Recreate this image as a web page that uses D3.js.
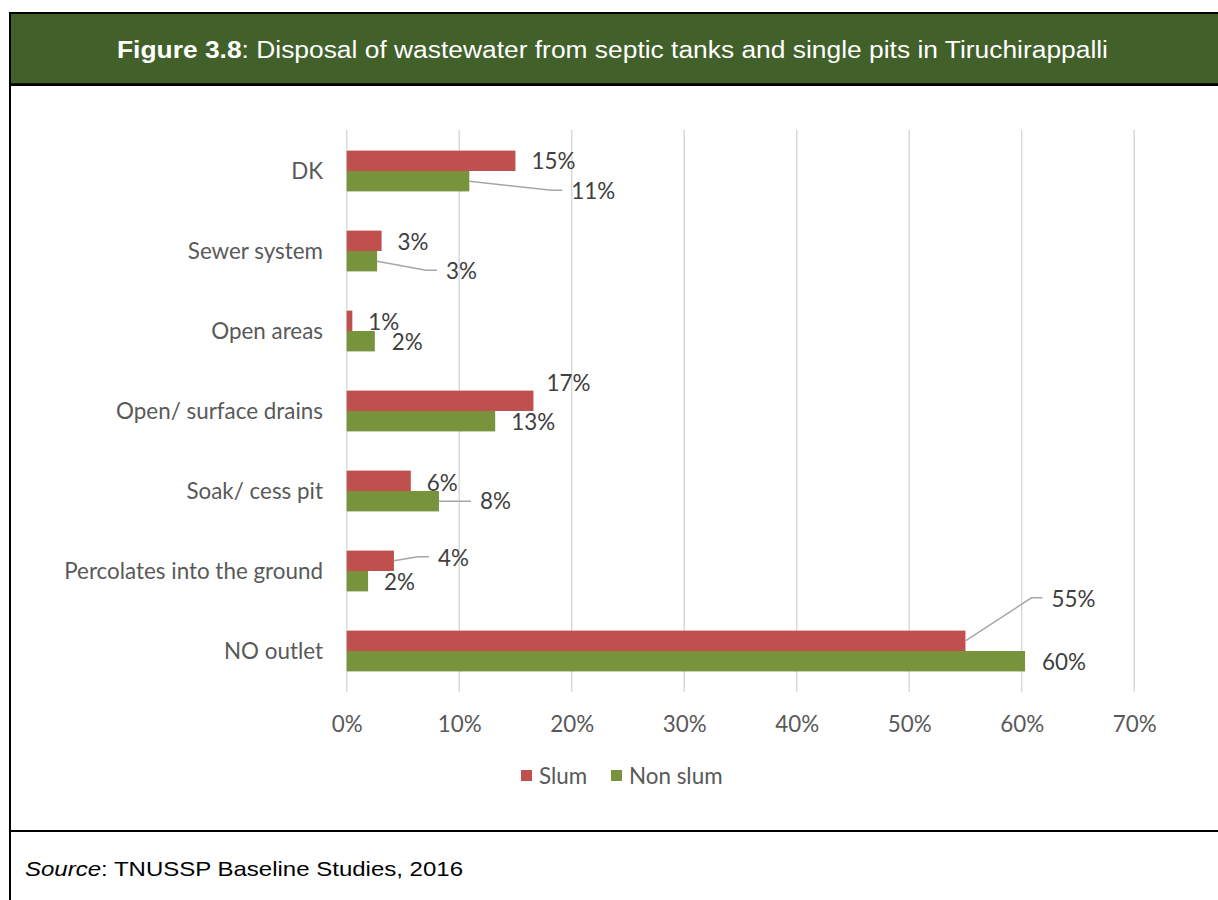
<!DOCTYPE html>
<html>
<head>
<meta charset="utf-8">
<script src="https://cdn.jsdelivr.net/npm/d3@7"></script>
<style>
  html, body { margin: 0; padding: 0; background: #fff; }
  svg { display: block; }
</style>
</head>
<body>
<svg id="chart" width="1218" height="900"></svg>
<script>
// ---- data ----
const categories = ["DK", "Sewer system", "Open areas", "Open/ surface drains", "Soak/ cess pit", "Percolates into the ground", "NO outlet"];
const seriesNames = ["Slum", "Non slum"];
const slum    = [15.0, 3.1, 0.5, 16.6, 5.7, 4.2, 55.0];
const nonSlum = [10.9, 2.7, 2.5, 13.2, 8.2, 1.9, 60.3];
const slumLabels    = ["15%", "3%", "1%", "17%", "6%", "4%", "55%"];
const nonSlumLabels = ["11%", "3%", "2%", "13%", "8%", "2%", "60%"];
const xTicks = [0, 10, 20, 30, 40, 50, 60, 70];
const titleBold = "Figure 3.8";
const titleRest = ": Disposal of wastewater from septic tanks and single pits in Tiruchirappalli";
const sourceItalic = "Source";
const sourceRest = ": TNUSSP Baseline Studies, 2016";

// label placement (offsets from bar end / bar centre), layout only
const slumLabelOffsets    = [[16,0],[16,1],[16,1],[13,-18],[16,2],[44,-3],[86,-42]];
const nonSlumLabelOffsets = [[102,10],[69,10],[17,1],[16,1],[41,0],[16,1],[17,1]];

const colors = ["#C0504D", "#77933C"];
const svg = d3.select("#chart");

// ---- frame ----
svg.append("rect").attr("x", 10).attr("y", 13).attr("width", 1210).attr("height", 72)
  .attr("fill", "#42602a");
svg.append("line").attr("x1", 9).attr("x2", 1218).attr("y1", 13).attr("y2", 13).attr("stroke", "#000").attr("stroke-width", 2.2);
svg.append("line").attr("x1", 9).attr("x2", 1218).attr("y1", 84.7).attr("y2", 84.7).attr("stroke", "#000").attr("stroke-width", 2.8);
svg.append("line").attr("x1", 10).attr("x2", 10).attr("y1", 12).attr("y2", 900).attr("stroke", "#000").attr("stroke-width", 2);
svg.append("line").attr("x1", 9).attr("x2", 1218).attr("y1", 831).attr("y2", 831).attr("stroke", "#000").attr("stroke-width", 2.2);

const title = svg.append("text").attr("x", 117).attr("y", 58)
  .attr("fill", "#fff")
  .attr("textLength", 991).attr("lengthAdjust", "spacingAndGlyphs")
  .style("font-family", "'Liberation Sans', Arial, sans-serif").style("font-size", "23px");
title.append("tspan").attr("font-weight", "bold").text(titleBold);
title.append("tspan").text(titleRest);

const src = svg.append("text").attr("x", 25).attr("y", 876).attr("fill", "#000")
  .attr("textLength", 438).attr("lengthAdjust", "spacingAndGlyphs")
  .style("font-family", "'Liberation Sans', Arial, sans-serif").style("font-size", "21px");
src.append("tspan").attr("font-style", "italic").text(sourceItalic);
src.append("tspan").text(sourceRest);

// ---- scales ----
const x = d3.scaleLinear().domain([0, 70]).range([346.7, 1134.2]);
const y = d3.scaleBand().domain(categories).range([131, 691]).paddingInner(0.49).paddingOuter(0.245);
const y2 = d3.scaleBand().domain(seriesNames).range([0, y.bandwidth()]);

const font = "Lato, 'Open Sans', sans-serif";
const fs = "22.4px";

// gridlines
svg.append("g").selectAll("line").data(xTicks).join("line")
  .attr("x1", d => x(d)).attr("x2", d => x(d))
  .attr("y1", 130).attr("y2", 692)
  .attr("stroke", "#d9d9d9").attr("stroke-width", 1.5);

// x axis tick labels
const xAxis = d3.axisBottom(x).tickValues(xTicks).tickFormat(d => d + "%").tickSize(0).tickPadding(0);
const gx = svg.append("g").attr("transform", "translate(0,732)").call(xAxis);
gx.select(".domain").remove();
gx.selectAll("text").attr("dy", 0).attr("fill", "#595959")
  .style("font-family", font).style("font-size", fs);

// y axis labels
const yAxis = d3.axisLeft(y).tickSize(0).tickPadding(0);
const gy = svg.append("g").attr("transform", "translate(323,0)").call(yAxis);
gy.select(".domain").remove();
gy.selectAll("text").attr("fill", "#595959").attr("dy", "0.35em")
  .style("font-family", font).style("font-size", fs);

// bars
const series = [
  { name: seriesNames[0], values: slum, labels: slumLabels, offs: slumLabelOffsets, color: colors[0] },
  { name: seriesNames[1], values: nonSlum, labels: nonSlumLabels, offs: nonSlumLabelOffsets, color: colors[1] }
];

series.forEach(s => {
  const rows = categories.map((c, i) => ({ c, v: s.values[i], lab: s.labels[i], off: s.offs[i] }));
  svg.append("g").selectAll("rect").data(rows).join("rect")
    .attr("x", x(0))
    .attr("y", d => y(d.c) + y2(s.name))
    .attr("width", d => x(d.v) - x(0))
    .attr("height", y2.bandwidth())
    .attr("fill", s.color);

  const g = svg.append("g");
  rows.forEach(d => {
    const ex = x(d.v);
    const cy = y(d.c) + y2(s.name) + y2.bandwidth() / 2;
    const lx = ex + d.off[0];
    const ly = cy + d.off[1];
    if (d.off[0] > 30) {
      const pts = Math.abs(d.off[1]) > 2
        ? [[ex, cy], [lx - 20, ly - 1], [lx - 9, ly - 1]]
        : [[ex, cy], [lx - 9, cy]];
      g.append("path").attr("d", d3.line()(pts))
        .attr("fill", "none").attr("stroke", "#a6a6a6").attr("stroke-width", 1.5);
    }
    g.append("text").attr("x", lx).attr("y", ly).attr("dy", "0.35em")
      .attr("fill", "#404040").style("font-family", font).style("font-size", fs)
      .text(d.lab);
  });
});

// legend
const legend = svg.append("g");
const legendItems = [{ n: seriesNames[0], c: colors[0], x: 521 }, { n: seriesNames[1], c: colors[1], x: 611 }];
legendItems.forEach(it => {
  legend.append("rect").attr("x", it.x).attr("y", 770).attr("width", 11).attr("height", 11).attr("fill", it.c);
  legend.append("text").attr("x", it.x + 18).attr("y", 776).attr("dy", "0.35em")
    .attr("fill", "#595959").style("font-family", font).style("font-size", fs).text(it.n);
});
</script>
</body>
</html>
